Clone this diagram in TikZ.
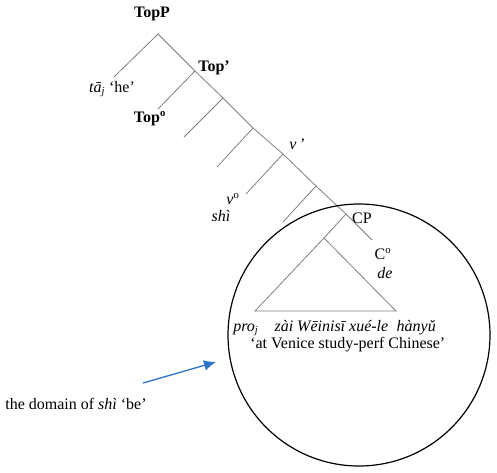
\documentclass[tikz,border=0pt]{standalone}
\usepackage{fontspec}
\setmainfont{Liberation Serif}
\usetikzlibrary{arrows.meta}
\definecolor{branchGray}{HTML}{7F7F7F}
\definecolor{arrowBlue}{HTML}{2E75C9}

\begin{document}
\begin{tikzpicture}[x=0.75pt,y=-0.75pt,>=Latex,
  branch/.style={draw=branchGray,line width=0.6pt},
  lbl/.style={inner sep=0pt,font=\fontsize{12}{14}\selectfont}]
  \useasboundingbox (0,0) rectangle (497,472);
  % spine of the tree
  \coordinate (topp) at (158,34);
  \coordinate (topbar) at (195,71);
  \coordinate (s3) at (223,98);
  \coordinate (s4) at (253,128);
  \coordinate (vbar) at (283,154);
  \coordinate (s6) at (316,186);
  \coordinate (cp) at (346,214);
  \coordinate (cnull) at (372,240);
  % left branches
  \coordinate (spec) at (114,77);
  \coordinate (tophead) at (158,109);
  \coordinate (l3) at (184,137);
  \coordinate (l4) at (217,167);
  \coordinate (vhead) at (246,194);
  \coordinate (l6) at (283,222);
  % triangle under CP
  \coordinate (ip) at (324,238);
  \coordinate (ipl) at (255,311);
  \coordinate (ipr) at (396,311);
  \draw[branch] (topp) -- (topbar) -- (s3) -- (s4) -- (vbar) -- (s6) -- (cp) -- (cnull);
  \draw[branch] (topp) -- (spec);
  \draw[branch] (topbar) -- (tophead);
  \draw[branch] (s3) -- (l3);
  \draw[branch] (s4) -- (l4);
  \draw[branch] (vbar) -- (vhead);
  \draw[branch] (s6) -- (l6);
  \draw[branch] (cp) -- (ip) -- (ipl) -- (ipr) -- (ip);
  % labels
  \node[lbl] (toppL) at (152,14) {\textbf{TopP}};
  \node[lbl] (topbarL) at (214,68) {\textbf{Top’}};
  \node[lbl] (specL) at (112,89) {\textit{tā}\textsubscript{\itshape j} ‘he’};
  \node[lbl] (topheadL) at (150,119) {\textbf{Top\textsuperscript{o}}};
  \node[lbl] (vbarL) at (297,144) {\textit{v\,’}};
  \node[lbl] (vheadL) at (233,199) {\textit{v}\textsuperscript{o}};
  \node[lbl] (shiL) at (221,216) {\textit{shì}};
  \node[lbl] (cpL) at (362,218) {CP};
  \node[lbl] (cnullL) at (383,254) {C\textsuperscript{o}};
  \node[lbl] (deL) at (385,273) {\textit{de}};
  \node[lbl,anchor=west] (ipL) at (233,328)
    {\textit{pro}\textsubscript{\itshape j}\quad\textit{zài Wēinisī xué-le\; hànyǔ}};
  \node[lbl,anchor=west] (glossL) at (250,345) {‘at Venice study-perf Chinese’};
  % domain circle and pointer
  \node[draw,circle,line width=0.9pt,minimum size=262*0.75pt,inner sep=0pt] (domain) at (359,335) {};
  \node[lbl] (domainL) at (76,404) {the domain of \textit{shì} ‘be’};
  \coordinate (ptr) at (143,383);
  \coordinate (ptrEnd) at (216,362);
  \draw[arrowBlue,line width=1pt,-{Latex[length=9pt,width=8pt]}] (ptr) -- (ptrEnd);
\end{tikzpicture}
\end{document}
